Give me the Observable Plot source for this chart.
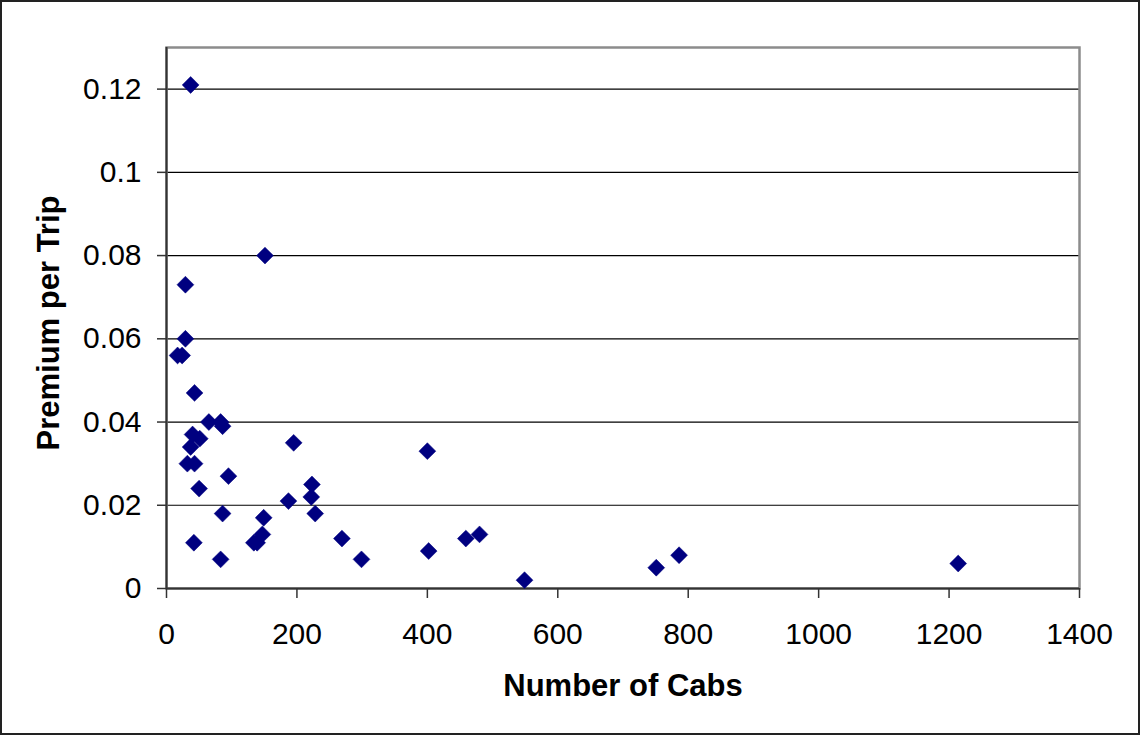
<!DOCTYPE html>
<html>
<head>
<meta charset="utf-8">
<script src="https://cdn.jsdelivr.net/npm/d3@7"></script>
<script src="https://cdn.jsdelivr.net/npm/@observablehq/plot@0.6"></script>
<style>
  html, body { margin: 0; padding: 0; background: #fff; }
  #wrap { position: relative; width: 1140px; height: 735px; }
  #border { position: absolute; left: 0; top: 0; width: 1140px; height: 735px; box-sizing: border-box; border: 2px solid #222; pointer-events: none; }
  svg { display: block; }
</style>
</head>
<body>
<div id="wrap"><div id="border"></div></div>
<script>
const cabs    = [37, 151, 29, 29, 17, 24, 43, 65, 83, 86, 40, 51, 37, 32, 43, 195, 95, 50, 223, 222, 187, 228, 86, 149, 147, 139, 134, 42, 83, 269, 299, 400, 402, 459, 480, 549, 751, 786, 1214];
const premium = [0.121, 0.080, 0.073, 0.060, 0.056, 0.056, 0.047, 0.040, 0.040, 0.039, 0.037, 0.036, 0.034, 0.030, 0.030, 0.035, 0.027, 0.024, 0.025, 0.022, 0.021, 0.018, 0.018, 0.017, 0.013, 0.011, 0.011, 0.011, 0.007, 0.012, 0.007, 0.033, 0.009, 0.012, 0.013, 0.002, 0.005, 0.008, 0.006];
const xTicks = [0, 200, 400, 600, 800, 1000, 1200, 1400];
const yTicks = [0, 0.02, 0.04, 0.06, 0.08, 0.1, 0.12];
const xTitle = "Number of Cabs";
const yTitle = "Premium per Trip";

const data = cabs.map((c, i) => ({cabs: c, premium: premium[i]}));

const chart = Plot.plot({
  width: 1140,
  height: 735,
  marginLeft: 166,
  marginRight: 61,
  marginTop: 47,
  marginBottom: 147,
  style: {fontFamily: "'Liberation Sans', Arial, sans-serif", fontSize: "30px", color: "#000", background: "#fff"},
  x: {domain: [0, 1400]},
  y: {domain: [0, 0.13]},
  marks: [
    Plot.ruleY(yTicks.filter(d => d > 0), {stroke: "#000", strokeWidth: 1.2}),
    Plot.frame({stroke: "#8c8c8c", strokeWidth: 2.5}),
    Plot.ruleX([0], {stroke: "#333", strokeWidth: 2}),
    Plot.ruleY([0], {stroke: "#333", strokeWidth: 2}),
    Plot.axisX({ticks: xTicks, tickSize: 10, tickPadding: 24, tickFormat: d => String(d), label: null, stroke: "#333", strokeWidth: 1.5, fontSize: 30}),
    Plot.axisY({ticks: yTicks, tickSize: 9, tickPadding: 16, tickFormat: d => String(d), label: null, stroke: "#333", strokeWidth: 1.5, fontSize: 30}),
    Plot.dot(data, {x: "cabs", y: "premium", symbol: "diamond2", r: 7.6, fill: "#000080", stroke: "#000080", strokeWidth: 0.5}),
    Plot.text([xTitle], {frameAnchor: "bottom", lineAnchor: "middle", textAnchor: "middle", dy: 98, fontSize: 31, fontWeight: "bold", fill: "#000"}),
    Plot.text([yTitle], {frameAnchor: "left", lineAnchor: "middle", textAnchor: "middle", rotate: -90, dx: -117, dy: 5, fontSize: 31, fontWeight: "bold", fill: "#000"})
  ]
});
document.getElementById("wrap").prepend(chart);
</script>
</body>
</html>
